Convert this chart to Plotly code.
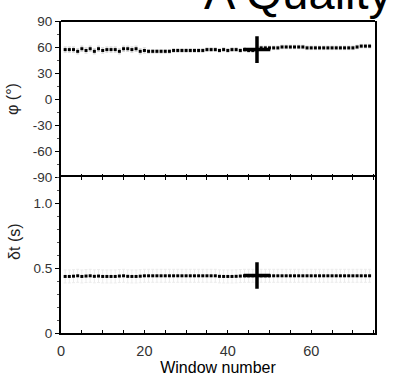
import plotly.graph_objects as go
from plotly.subplots import make_subplots

windows = list(range(1, 75))
phi = [57,57,57,55,58,56,58,55,58,56,57,57,57,55,58,58,57,58,55,56,
       55,55,55,55,55,55,56,56,56,56,56,56,56,56,57,57,57,56,57,56,
       57,57,56,57,56,56,57,
       59,59,59,59,59,60,60,60,60,60,60,59,59,59,59,59,59,59,59,59,59,59,59,60,61,61,61]
phi_err = [3]*20 + [2]*54
dt = [0.435,0.435,0.437,0.44,0.435,0.438,0.44,0.436,0.438,0.435,
      0.435,0.435,0.435,0.438,0.44,0.436,0.435,0.435,0.437,0.44,
      0.44,0.44,0.44,0.44,0.44,0.44,0.44,0.44,0.44,0.44,
      0.44,0.44,0.44,0.44,0.44,0.44,0.44,0.436,0.435,0.435,
      0.435,0.436,0.438,0.44,0.44,0.44,0.44] + [0.44]*27
dt_err = [0.05]*74
best_window = 47
best_phi = 57
best_dt = 0.442

x_ticks = list(range(0, 80, 5))
x_labels = [str(v) if v % 20 == 0 else "" for v in x_ticks]
phi_ticks = [-90, -60, -30, 0, 30, 60, 90]
phi_labels = ["-90", "-60", "-30", "0", "30", "60", "90"]
dt_ticks = [0, 0.5, 1.0]
dt_labels = ["0", "0.5", "1.0"]

fig = make_subplots(rows=2, cols=1, shared_xaxes=True, vertical_spacing=0)

fig.add_trace(go.Scatter(x=windows, y=phi, mode="markers",
                         marker=dict(symbol="square", size=3, color="black"),
                         error_y=dict(type="data", array=phi_err, color="#d0d0d0", thickness=1, width=1.5),
                         showlegend=False), row=1, col=1)
fig.add_trace(go.Scatter(x=[best_window], y=[best_phi], mode="markers",
                         marker=dict(symbol="cross-thin", size=19, line=dict(color="black", width=3.5)),
                         showlegend=False), row=1, col=1)
fig.add_trace(go.Scatter(x=windows, y=dt, mode="markers",
                         marker=dict(symbol="square", size=3, color="black"),
                         error_y=dict(type="data", array=dt_err, color="#ececec", thickness=1, width=1.5),
                         showlegend=False), row=2, col=1)
fig.add_trace(go.Scatter(x=[best_window], y=[best_dt], mode="markers",
                         marker=dict(symbol="cross-thin", size=19, line=dict(color="black", width=3.5)),
                         showlegend=False), row=2, col=1)

font = "Liberation Sans, Arial, sans-serif"
xcommon = dict(range=[0, 75.3], tickvals=x_ticks, ticktext=x_labels, ticks="inside", ticklen=3,
               tickwidth=1, tickcolor="black", linecolor="black", showgrid=False, zeroline=False,
               tickfont=dict(family=font, size=14.5, color="#333"))
fig.update_xaxes(**xcommon, showline=False, mirror=False, row=1, col=1)
fig.update_xaxes(**xcommon, showline=True, linewidth=2, mirror="ticks", row=2, col=1)
fig.update_xaxes(ticklabelstandoff=4,
                 title=dict(text="Window number", font=dict(family=font, size=16, color="black"), standoff=0),
                 row=2, col=1)

ycommon = dict(ticks="outside", ticklen=4, tickcolor="black",
               showline=True, linewidth=2, linecolor="black", mirror=True, showgrid=False, zeroline=False,
               tickfont=dict(family=font, size=13.5, color="#333"))
fig.update_yaxes(range=[-90, 90], tickvals=phi_ticks, ticktext=phi_labels,
                 minor=dict(dtick=15, ticks="outside", ticklen=2, tickcolor="#555"),
                 title=dict(text="φ (°)", font=dict(family=font, size=16, color="#222"), standoff=10),
                 row=1, col=1, **ycommon)
fig.update_yaxes(range=[0, 1.2], tickvals=dt_ticks, ticktext=dt_labels,
                 minor=dict(dtick=0.1, ticks="outside", ticklen=2, tickcolor="#555"),
                 row=2, col=1, **ycommon)

fig.add_annotation(text="δt (s)", xref="paper", yref="paper", x=-0.1465, y=0.292,
                   xanchor="center", yanchor="middle", textangle=-90, showarrow=False,
                   font=dict(family=font, size=16, color="#222"))

fig.add_shape(type="line", xref="paper", yref="paper", x0=0, x1=1, y0=1, y1=1,
              line=dict(color="black", width=2))

fig.add_annotation(text="A Quality", xref="paper", yref="paper", x=0.448, y=1.0,
                   xanchor="left", yanchor="bottom", showarrow=False,
                   font=dict(family=font, size=47, color="black"))

fig.update_layout(width=395, height=383, margin=dict(l=61, r=20, t=21, b=47),
                  plot_bgcolor="white", paper_bgcolor="white")
fig.write_html("out.html")
